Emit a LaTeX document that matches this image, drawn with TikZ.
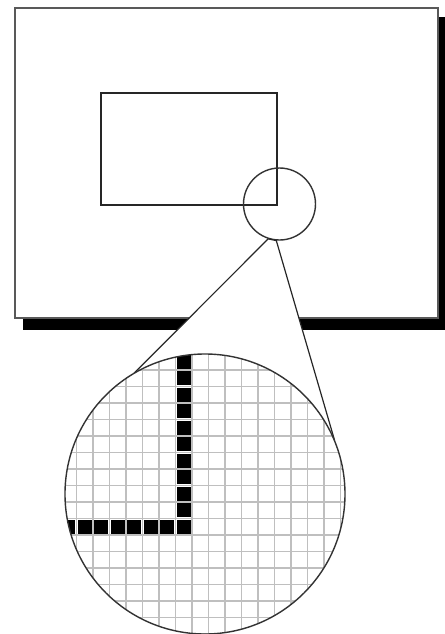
\documentclass[tikz,border=0pt]{standalone}
\usetikzlibrary{calc}
\begin{document}
\begin{tikzpicture}[x=0.5pt,y=-0.5pt]
    \useasboundingbox (0,0) rectangle (445,634);
    % Bildschirm mit Schatten
    \fill[black] (23,17) rectangle (446,330);
    \filldraw[fill=white,draw=black!65,line width=1pt] (15,8) rectangle (438,318);
    \draw[black!85,line width=0.8pt] (101,93) rectangle (277,205);
    \node[circle,draw=black!80,line width=0.7pt,minimum size=36pt,inner sep=0pt] (lupe) at (279.5,204) {};
    \node[circle,minimum size=140pt,inner sep=0pt] (detail) at (205,494) {};
    % Trichter
    \filldraw[fill=white,draw=black!85,line width=0.6pt] (lupe.252) -- (detail.120) -- (detail.23) -- (lupe.265) -- cycle;
    \fill[white] (detail) circle[radius=140];
    \begin{scope}
      \clip (detail) circle[radius=140];
      \foreach \i in {-8,...,10}
        \draw[black!25,line width=0.6pt] ({192+16.5*\i},350) -- ({192+16.5*\i},640);
      \foreach \j in {-11,...,6}
        \draw[black!25,line width=0.6pt] (60,{535+16.5*\j}) -- (350,{535+16.5*\j});
      \foreach \j in {0,...,11}
        \fill[black] (176.8,{535-16.5*\j-1.3}) rectangle (190.7,{535-16.5*(\j+1)+1.3});
      \foreach \i in {1,...,8}
        \fill[black] ({192-16.5*(\i+1)+1.3},533.7) rectangle ({192-16.5*\i-1.3},519.8);
    \end{scope}
    \draw[black!80,line width=0.7pt] (detail) circle[radius=140];
  \end{tikzpicture}
\end{document}
